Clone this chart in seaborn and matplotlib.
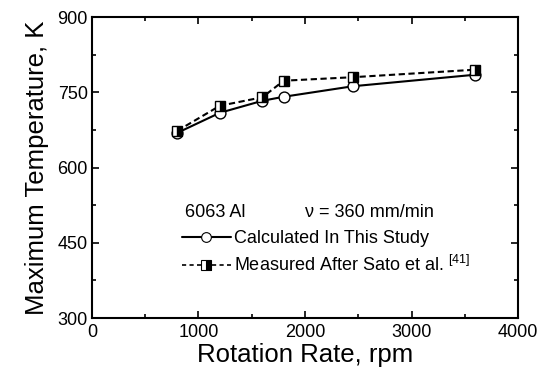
import matplotlib
matplotlib.use("Agg")
import matplotlib.pyplot as plt
import seaborn as sns
import pandas as pd
from matplotlib.lines import Line2D
from matplotlib.ticker import MultipleLocator

rpm_calc = [800, 1200, 1600, 1800, 2450, 3600]
temp_calc = [669, 709, 733, 741, 762, 785]
rpm_meas = [800, 1200, 1600, 1800, 2450, 3600]
temp_meas = [673, 723, 740, 773, 780, 795]
label_calc = "Calculated In This Study"
label_meas = "Measured After Sato et al. $^{[41]}$"

sns.set_theme(style="ticks")
plt.rcParams['font.family'] = ['Liberation Sans', 'DejaVu Sans']
plt.rcParams['mathtext.fontset'] = 'custom'
plt.rcParams['mathtext.rm'] = 'Liberation Sans'
plt.rcParams['mathtext.it'] = 'Liberation Sans'
plt.rcParams['text.color'] = 'black'
plt.rcParams['axes.labelcolor'] = 'black'

fig = plt.figure(figsize=(5.43, 3.83), dpi=100)
ax = fig.add_axes([0.1694, 0.1697, 0.7846, 0.7859])

df_c = pd.DataFrame({"x": rpm_calc, "y": temp_calc})
df_m = pd.DataFrame({"x": rpm_meas, "y": temp_meas})

dash = (0, (3, 1.7))
sns.lineplot(data=df_c, x="x", y="y", ax=ax, color="black", lw=1.5,
             marker="o", markersize=7.8, markerfacecolor="white",
             markeredgecolor="black", markeredgewidth=1.0)
sns.lineplot(data=df_m, x="x", y="y", ax=ax, color="black", lw=1.5,
             linestyle=dash, marker="s", markersize=7,
             fillstyle="right", markerfacecolor="black",
             markerfacecoloralt="white", markeredgecolor="black",
             markeredgewidth=1.0)

ax.set_xlim(0, 4000)
ax.set_ylim(300, 900)
ax.xaxis.set_major_locator(MultipleLocator(1000))
ax.xaxis.set_minor_locator(MultipleLocator(500))
ax.yaxis.set_major_locator(MultipleLocator(150))
ax.yaxis.set_minor_locator(MultipleLocator(75))
ax.tick_params(which="both", direction="in", top=True, right=True,
               labelsize=13, width=1.2, colors="black")
ax.tick_params(which="major", length=5)
ax.tick_params(which="minor", length=3)
ax.tick_params(axis="x", pad=4)
ax.tick_params(axis="y", pad=3)
for s in ax.spines.values():
    s.set_linewidth(1.5)
    s.set_color("black")

ax.set_xlabel("Rotation Rate, rpm", fontsize=18.5, labelpad=2)
ax.set_ylabel("Maximum Temperature, K", fontsize=18.5, labelpad=6)

ax.text(0.218, 0.352, "6063 Al", transform=ax.transAxes, fontsize=13,
        va="center", ha="left")
ax.text(0.50, 0.352, "\u03bd = 360 mm/min", transform=ax.transAxes,
        fontsize=13, va="center", ha="left")

handles = [
    Line2D([], [], color="black", lw=1.5, marker="o", markersize=7,
           markerfacecolor="white", markeredgecolor="black", markeredgewidth=0.8),
    Line2D([], [], color="black", lw=1.2, linestyle=(0, (2.5, 2)), marker="s",
           markersize=6.5, fillstyle="right", markerfacecolor="black",
           markerfacecoloralt="white", markeredgecolor="black", markeredgewidth=0.8),
]
ax.legend(handles, [label_calc, label_meas], loc="upper left",
          bbox_to_anchor=(0.211, 0.292), frameon=False, fontsize=13,
          handlelength=2.7, handletextpad=0.2, labelspacing=0.45,
          borderaxespad=0, borderpad=0)

fig.savefig("out.png", dpi=100)
